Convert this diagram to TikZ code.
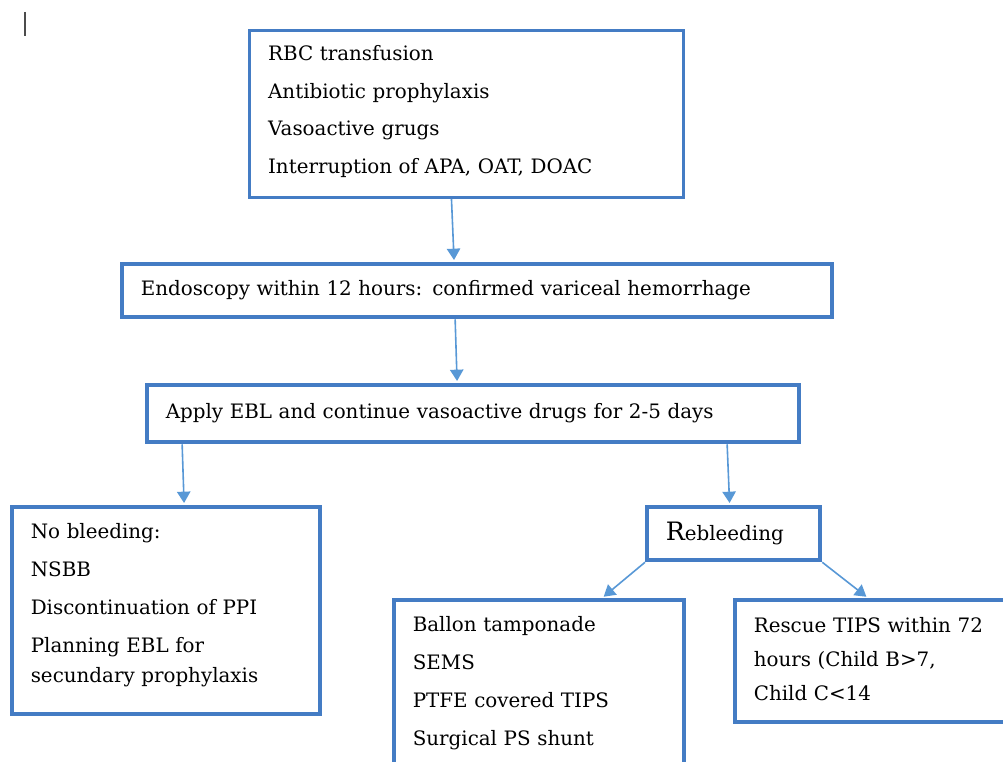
\documentclass[tikz,border=0pt]{standalone}
\usepackage{fontspec}
\setmainfont{DejaVu Serif}
\usetikzlibrary{arrows.meta,calc}
\definecolor{boxblue}{RGB}{68,124,196}
\definecolor{arrowblue}{RGB}{88,152,214}

\begin{document}
\begin{tikzpicture}[x=0.75pt, y=-0.75pt,
	box/.style={draw=boxblue, line width=2.2pt, anchor=north west, inner xsep=14pt, inner ysep=4pt, align=left, font=\fontsize{14.9}{28.3}\selectfont},
	thickbox/.style={box, line width=3.2pt},
	lift/.style={execute at end node={\endgraf\vspace*{#1}}},
	arrow/.style={draw=arrowblue, line width=1.2pt, shorten >=1.5pt, -{Triangle[width=10pt,length=8.5pt]}}]
	\useasboundingbox (0,0) rectangle (1003,762);
	\draw[black!70, line width=1.2pt] (25,12) -- (25,36);

	\node (top) at (248,29) [box, lift=3.5pt, minimum width=325.5pt, minimum height=125.25pt, text width=297.5pt] {RBC transfusion\\Antibiotic prophylaxis\\Vasoactive grugs\\Interruption of APA, OAT, DOAC};
	\node (endo) at (120,262) [thickbox, minimum width=532.5pt, minimum height=39.75pt, text width=504.5pt] {Endoscopy within 12 hours: confirmed variceal hemorrhage};
	\node (apply) at (145,383) [thickbox, minimum width=489pt, minimum height=42.75pt, text width=461pt] {Apply EBL and continue vasoactive drugs for 2-5 days};
		\node (nobleed) at (10,505) [thickbox, lift=8pt, minimum width=231pt, minimum height=155.25pt, text width=203pt] {No bleeding:\\NSBB\\Discontinuation of PPI\\Planning EBL for\\[-5.5pt]secundary prophylaxis};
		\node (rebleed) at (645,505) [thickbox, minimum width=129.75pt, minimum height=39.75pt, text width=101.75pt] {{\fontsize{19}{19}\selectfont R}ebleeding};
			\node (ballon) at (392,598) [thickbox, minimum width=217.5pt, minimum height=124.5pt, text width=189.5pt] {Ballon tamponade\\SEMS\\PTFE covered TIPS\\Surgical PS shunt};
			\node (rescue) at (733,598) [thickbox, lift=3.5pt, minimum width=210pt, minimum height=91.5pt, text width=182pt, font=\fontsize{14.9}{25.5}\selectfont] {Rescue TIPS within 72\\hours (Child B>7,\\Child C<14};

	\draw[arrow] ($(top.south)+(-15,0)$) -- ($(endo.north)+(-23,0)$);
	\draw[arrow] ($(endo.south)+(-22,0)$) -- ($(apply.north)+(-16,0)$);
	\draw[arrow] ($(apply.south)+(-291,0)$) -- ($(nobleed.north)+(18,0)$);
	\draw[arrow] ($(apply.south)+(254,0)$) -- ($(rebleed.north)+(-4,0)$);
	\draw[arrow] (rebleed.south west) -- ($(ballon.north)+(63,0)$);
	\draw[arrow] (rebleed.south east) -- ($(rescue.north west)+(135,0)$);
\end{tikzpicture}
\end{document}
